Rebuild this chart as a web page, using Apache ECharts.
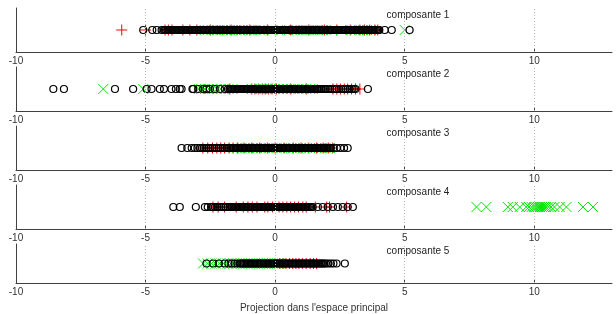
<!DOCTYPE html>
<html><head><meta charset="utf-8">
<script src="https://cdn.jsdelivr.net/npm/echarts@6/dist/echarts.min.js"></script>
<style>html,body{margin:0;padding:0;background:#fff}#c{width:616px;height:314px}</style>
</head><body><div id="c"></div>
<script>
const tickValues = [-10, -5, 0, 5, 10];
const gridValues = [-5, 0, 5, 10];
const panelLabels = ['composante 1', 'composante 2', 'composante 3', 'composante 4', 'composante 5'];
const xAxisTitle = "Projection dans l'espace principal";

// composante 1
const circles1 = [-5.09,-4.74,-4.57,-4.38,-4.30,-4.25,-4.21,-4.16,-4.11,-4.06,-4.01,-3.96,-3.91,-3.86,-3.81,-3.76,-3.71,-3.66,-3.61,-3.56,-3.51,-3.46,-3.41,-3.36,-3.31,-3.26,-3.21,-3.16,-3.11,-3.06,-3.01,-2.96,-2.91,-2.86,-2.81,-2.76,-2.71,-2.66,-2.61,-2.56,-2.51,-2.46,-2.41,-2.36,-2.31,-2.26,-2.21,-2.16,-2.11,-2.06,-2.01,-1.96,-1.91,-1.86,-1.81,-1.76,-1.71,-1.66,-1.61,-1.56,-1.51,-1.46,-1.41,-1.36,-1.31,-1.26,-1.21,-1.16,-1.11,-1.06,-1.01,-0.96,-0.91,-0.86,-0.81,-0.76,-0.71,-0.66,-0.61,-0.56,-0.51,-0.46,-0.41,-0.36,-0.31,-0.26,-0.21,-0.16,-0.11,-0.06,-0.01,0.04,0.09,0.14,0.19,0.24,0.29,0.34,0.39,0.44,0.49,0.54,0.59,0.64,0.69,0.74,0.79,0.84,0.89,0.94,0.99,1.04,1.09,1.14,1.19,1.24,1.29,1.34,1.39,1.44,1.49,1.54,1.59,1.64,1.69,1.74,1.79,1.84,1.89,1.94,1.99,2.04,2.09,2.14,2.19,2.24,2.29,2.34,2.39,2.44,2.49,2.54,2.59,2.64,2.69,2.74,2.79,2.84,2.89,2.94,2.99,3.04,3.09,3.14,3.19,3.24,3.29,3.34,3.39,3.44,3.49,3.54,3.59,3.64,3.69,3.74,3.79,3.84,3.89,3.94,3.99,4.02,4.23,4.5,5.19];
const plus1 = [-5.92,-5.0,-4.25,-4.12,-3.98,-3.56,-3.29,-3.02,-2.5,-1.7,-0.98,-0.3,0.6,1.3,1.9,2.38,2.9,3.27,3.45,3.65,3.85,3.96];
const cross1 = [-2.72,-2.6,-2.45,-2.33,-2.2,-2.05,-1.92,-1.8,-1.66,-1.55,-1.4,-1.28,-1.15,-1.02,-0.9,-0.76,-0.6,-0.48,-0.1,0.2,0.45,0.72,0.85,0.98,1.12,1.25,1.4,1.52,1.66,1.8,1.95,2.2,2.55,2.95,3.1,3.25,3.4,3.55,3.7,5.0];

// composante 2
const circles2 = [-8.56,-8.15,-6.18,-5.48,-4.96,-4.77,-4.45,-4.29,-4.0,-3.83,-3.68,-3.61,-3.19,-3.16,-2.97,-2.78,-2.65,-2.52,-2.33,-2.13,-1.94,-1.82,-1.75,-1.70,-1.65,-1.60,-1.55,-1.50,-1.45,-1.40,-1.35,-1.30,-1.25,-1.20,-1.15,-1.10,-1.05,-1.00,-0.95,-0.90,-0.85,-0.80,-0.75,-0.70,-0.65,-0.60,-0.55,-0.50,-0.45,-0.40,-0.35,-0.30,-0.25,-0.20,-0.15,-0.10,-0.05,0.00,0.05,0.10,0.15,0.20,0.25,0.30,0.35,0.40,0.45,0.50,0.55,0.60,0.65,0.70,0.75,0.80,0.85,0.90,0.95,1.00,1.05,1.10,1.15,1.20,1.25,1.30,1.35,1.40,1.45,1.50,1.55,1.60,1.65,1.70,1.75,1.80,1.88,1.95,2.04,2.12,2.2,2.29,2.37,2.46,2.55,2.63,2.72,2.8,2.88,2.96,3.04,3.1,3.58];
const plus2 = [-1.75,-0.9,-0.78,-0.65,-0.5,-0.38,-0.25,-0.12,0.05,0.6,1.2,2.23,2.38,2.52,2.67,2.8,2.95,3.1,3.27];
const cross2 = [-6.63,-5.09,-2.95,-2.85,-2.7,-2.55,-2.42,-2.25,-2.1,-1.95,-1.8,-1.65,-0.9,-0.75,-0.6,-0.45,-0.3,-0.15,0.0,0.15,0.3,0.45,0.6,0.75,0.9,1.05,1.2,1.35,1.45];

// composante 3
const circles3 = [-3.61,-3.39,-3.22,-3.1,-3.0,-2.9,-2.82,-2.74,-2.66,-2.58,-2.5,-2.42,-2.34,-2.26,-2.18,-2.1,-2.02,-1.94,-1.86,-1.78,-1.70,-1.63,-1.58,-1.53,-1.48,-1.43,-1.38,-1.33,-1.28,-1.23,-1.18,-1.13,-1.08,-1.03,-0.98,-0.93,-0.88,-0.83,-0.78,-0.73,-0.68,-0.63,-0.58,-0.53,-0.48,-0.43,-0.38,-0.33,-0.28,-0.23,-0.18,-0.13,-0.08,-0.03,0.02,0.07,0.12,0.17,0.22,0.27,0.32,0.37,0.42,0.47,0.52,0.57,0.62,0.67,0.72,0.77,0.82,0.87,0.92,0.97,1.02,1.07,1.12,1.17,1.22,1.27,1.32,1.37,1.42,1.47,1.52,1.57,1.62,1.67,1.72,1.77,1.82,1.87,1.92,1.97,2.02,2.07,2.12,2.15,2.25,2.38,2.52,2.66,2.8];
const plus3 = [-2.79,-2.6,-2.42,-2.25,-2.1,-1.95,-1.78,-1.62,-1.45,-1.2,-0.9,-0.6,-0.3,0.0,0.35,0.7,1.0,1.3,1.6,1.85,2.05,2.22];
const cross3 = [-1.6,-1.45,-1.3,-1.15,-1.0,-0.85,-0.7,-0.55,-0.4,-0.25,-0.1,0.05,0.2,0.35,0.5,0.62,0.74,0.86,0.98,1.1,1.22,1.34,1.46,1.58,1.7,1.82,1.94,2.06,2.12];

// composante 4
const circles4 = [-3.93,-3.68,-3.06,-2.71,-2.6,-2.47,-2.4,-2.32,-2.24,-2.16,-2.08,-2.0,-1.92,-1.84,-1.76,-1.70,-1.65,-1.60,-1.55,-1.50,-1.45,-1.40,-1.35,-1.30,-1.25,-1.20,-1.15,-1.10,-1.05,-1.00,-0.95,-0.90,-0.85,-0.80,-0.75,-0.70,-0.65,-0.60,-0.55,-0.50,-0.45,-0.40,-0.35,-0.30,-0.25,-0.20,-0.15,-0.10,-0.05,0.00,0.05,0.10,0.15,0.20,0.25,0.30,0.35,0.40,0.45,0.50,0.55,0.60,0.65,0.70,0.75,0.80,0.85,0.90,0.95,1.00,1.05,1.10,1.15,1.20,1.25,1.30,1.35,1.40,1.45,1.65,1.84,2.03,2.23,2.42,2.61,2.8,3.0];
const plus4 = [-2.4,-2.2,-1.95,-1.5,-1.23,-1.05,-0.88,-0.7,-0.4,-0.28,-0.1,0.15,0.3,0.45,0.6,0.75,0.9,1.07,1.2,1.55,1.99,2.1,2.76];
const cross4 = [7.77,8.15,8.98,9.17,9.44,9.69,9.8,9.9,10.0,10.08,10.15,10.22,10.3,10.38,10.45,10.55,10.65,10.78,10.98,11.24,11.88,12.27];

// composante 5
const circles5 = [-2.65,-2.4,-2.17,-1.95,-1.8,-1.68,-1.57,-1.46,-1.36,-1.30,-1.25,-1.20,-1.15,-1.10,-1.05,-1.00,-0.95,-0.90,-0.85,-0.80,-0.75,-0.70,-0.65,-0.60,-0.55,-0.50,-0.45,-0.40,-0.35,-0.30,-0.25,-0.20,-0.15,-0.10,-0.05,0.00,0.05,0.10,0.15,0.20,0.25,0.30,0.35,0.40,0.45,0.50,0.55,0.60,0.65,0.70,0.75,0.80,0.85,0.90,0.95,1.00,1.05,1.10,1.15,1.20,1.25,1.30,1.35,1.40,1.45,1.50,1.55,1.60,1.65,1.70,1.75,1.80,1.85,1.90,1.96,2.05,2.15,2.25,2.37,2.69];
const plus5 = [0.18,0.3,0.42,0.55,0.68,0.8,0.92,1.05,1.2,1.35,1.48,1.6];
const cross5 = [-2.78,-2.6,-2.45,-2.3,-2.15,-2.0,-1.85,-1.72,-1.6,-1.5,-1.4,-1.3,-1.2,-1.1,-1.0,-0.9,-0.8,-0.7,-0.6,-0.5,-0.4,-0.3,-0.2,-0.1,0.0,0.1,0.18,0.5];

const circleSets = [circles1, circles2, circles3, circles4, circles5];
const plusSets = [plus1, plus2, plus3, plus4, plus5];
const crossSets = [cross1, cross2, cross3, cross4, cross5];

const FONT = 'Liberation Sans, Arial, sans-serif';
const AXIS_COLOR = '#404040';
const PLUS_PATH = 'path://M5,0L5,10M0,5L10,5';
const CROSS_PATH = 'path://M0,0L10,10M10,0L0,10';

const chart = echarts.init(document.getElementById('c'), null, {renderer: 'canvas'});
const grid = [], xAxis = [], yAxis = [], series = [], graphic = [];

for (let i = 0; i < 5; i++) {
  const top = 8 + 59 * i;
  grid.push({left: 16, right: 4, top: top, height: 44});
  const xa = {
    type: 'value', gridIndex: i, min: -10, max: 13, interval: 5,
    axisLine: {onZero: false, lineStyle: {color: AXIS_COLOR, width: 1}},
    axisTick: {show: true, inside: true, length: 4, customValues: tickValues, lineStyle: {color: AXIS_COLOR}},
    axisLabel: {customValues: tickValues, fontSize: 10, color: '#333', margin: 4, fontFamily: FONT},
    splitLine: {show: false}
  };
  if (i === 4) {
    xa.name = xAxisTitle;
    xa.nameLocation = 'middle';
    xa.nameGap = 20;
    xa.nameTextStyle = {fontSize: 10, color: '#333', fontFamily: FONT};
  }
  xAxis.push(xa);
  yAxis.push({
    type: 'value', gridIndex: i, min: -1, max: 1,
    axisLine: {show: true, onZero: false, lineStyle: {color: AXIS_COLOR, width: 1}},
    axisTick: {show: false}, axisLabel: {show: false}, splitLine: {show: false}
  });
  series.push({
    type: 'scatter', xAxisIndex: i, yAxisIndex: i, data: [], z: 1, silent: true,
    markLine: {
      silent: true, symbol: 'none', animation: false, label: {show: false},
      lineStyle: {type: [1, 2], color: '#b8b8b8', width: 1},
      data: gridValues.map(v => ({xAxis: v}))
    }
  });
  series.push({
    type: 'scatter', xAxisIndex: i, yAxisIndex: i, z: 2, silent: true,
    data: plusSets[i].map(v => [v, 0]),
    symbol: PLUS_PATH, symbolSize: 11,
    itemStyle: {color: 'rgba(0,0,0,0)', borderColor: '#ff0000', borderWidth: 1, opacity: 1}
  });
  series.push({
    type: 'scatter', xAxisIndex: i, yAxisIndex: i, z: 3, silent: true,
    data: crossSets[i].map(v => [v, 0]),
    symbol: CROSS_PATH, symbolSize: 10,
    itemStyle: {color: 'rgba(0,0,0,0)', borderColor: '#00e600', borderWidth: 1, opacity: 1}
  });
  series.push({
    type: 'scatter', xAxisIndex: i, yAxisIndex: i, z: 4, silent: true,
    data: circleSets[i].map(v => [v, 0]),
    symbol: 'circle', symbolSize: 7,
    itemStyle: {color: 'rgba(0,0,0,0)', borderColor: '#000', borderWidth: 1.2, opacity: 1}
  });
  graphic.push({
    type: 'text', x: 418, y: top + 7, silent: true,
    style: {text: panelLabels[i], fill: '#222', font: '10px ' + FONT, textAlign: 'center', textVerticalAlign: 'middle'}
  });
}

chart.setOption({
  animation: false,
  backgroundColor: '#fff',
  grid, xAxis, yAxis, series, graphic
});
</script>
</body></html>
